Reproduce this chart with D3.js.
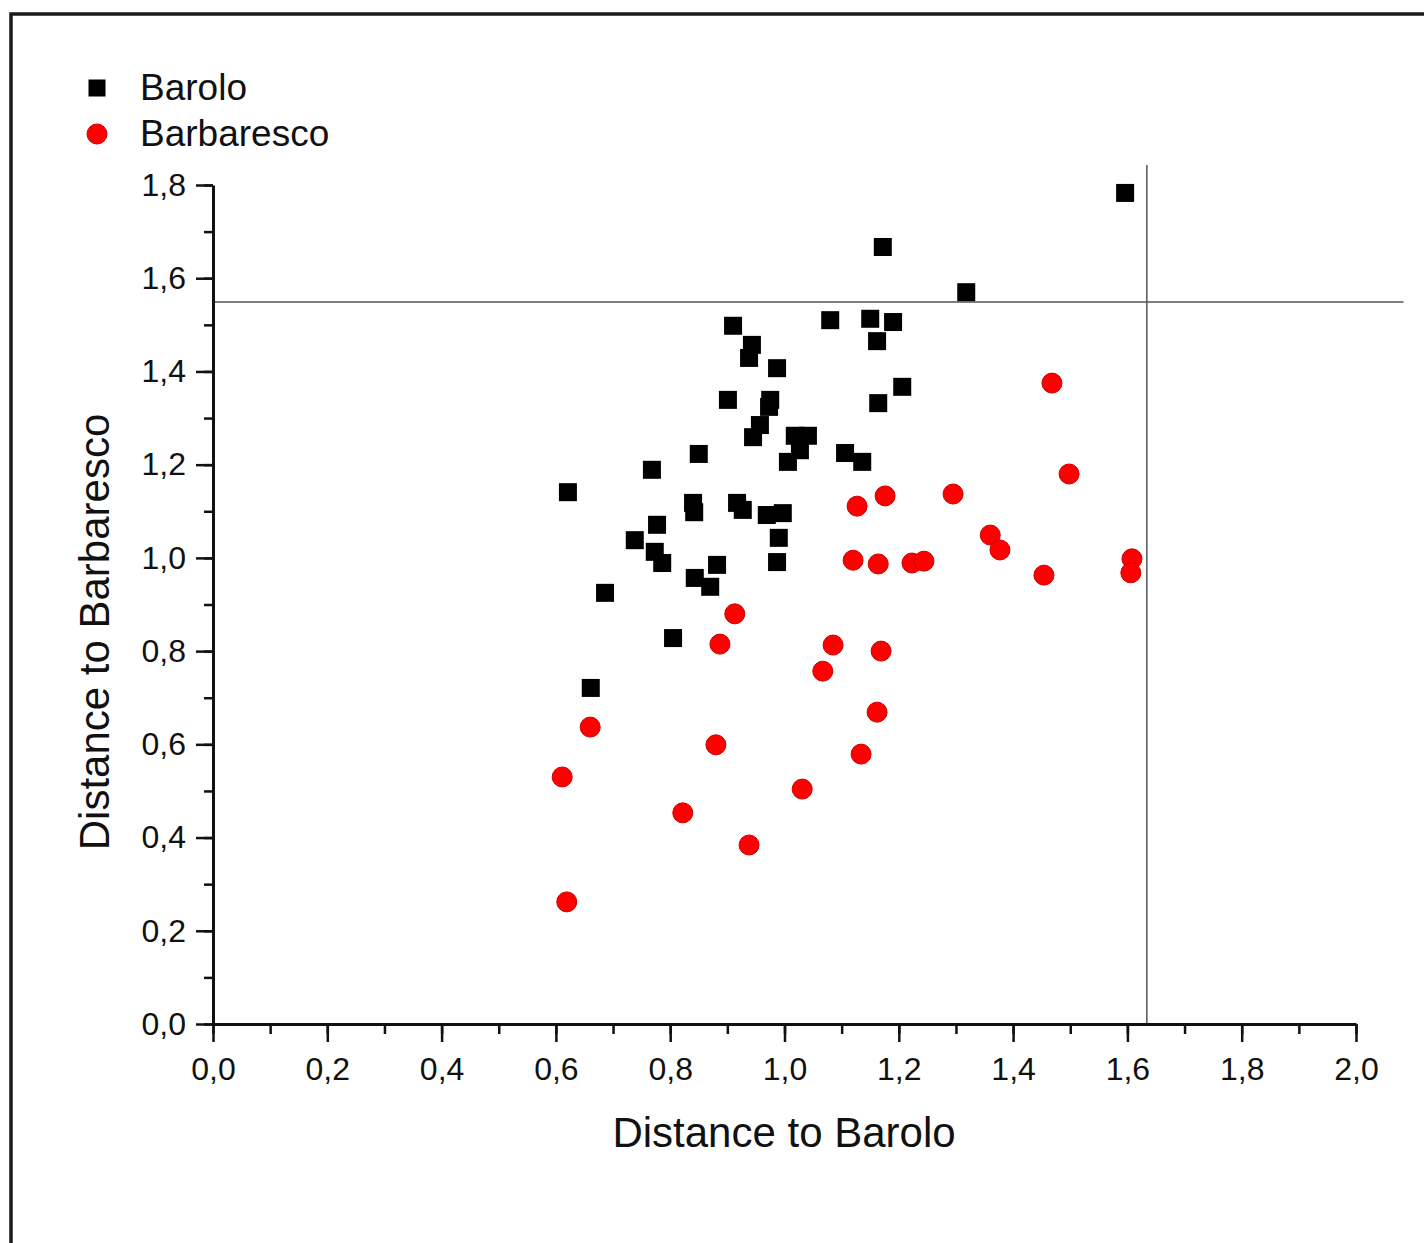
<!DOCTYPE html>
<meta charset='utf-8'>
<title>Distance to Barolo / Barbaresco</title>
<style>
body {
  margin: 0;
  background-color: #fff;
}
text {
  font-family: Arial, "Liberation Sans", sans-serif;
  fill: #111;
}
</style>
<svg width="1424" height="1243"></svg>
<script src="https://d3js.org/d3.v7.min.js"></script>
<script>

// Barolo samples: [distance to Barolo, distance to Barbaresco]
var baroloX = [1.596, 1.172, 1.318, 1.080, 1.150, 1.190, 0.910, 1.162, 0.943, 0.938,
               0.987, 1.206, 0.901, 0.975, 0.973, 1.164, 0.957, 0.945, 1.018, 1.041,
               1.027, 1.006, 0.850, 1.106, 1.136, 0.768, 0.621, 0.840, 0.842, 0.917,
               0.927, 0.969, 0.997, 0.777, 0.738, 0.773, 0.786, 0.990, 0.987, 0.882,
               0.843, 0.870, 0.686, 0.805, 0.661];
var baroloY = [1.783, 1.667, 1.570, 1.510, 1.513, 1.506, 1.498, 1.465, 1.457, 1.429,
               1.407, 1.367, 1.339, 1.339, 1.324, 1.332, 1.285, 1.259, 1.262, 1.262,
               1.231, 1.206, 1.223, 1.225, 1.206, 1.189, 1.141, 1.118, 1.098, 1.118,
               1.103, 1.092, 1.096, 1.071, 1.038, 1.013, 0.989, 1.043, 0.991, 0.985,
               0.957, 0.938, 0.925, 0.828, 0.721];

// Barbaresco samples
var barbX = [0.913, 0.887, 1.085, 1.169, 1.067, 1.162, 0.660, 0.880, 1.134, 0.611,
             1.031, 0.822, 0.938, 0.619, 1.127, 1.176, 1.295, 1.468, 1.498, 1.360,
             1.377, 1.120, 1.164, 1.223, 1.244, 1.454, 1.608, 1.606];
var barbY = [0.880, 0.815, 0.813, 0.800, 0.757, 0.669, 0.637, 0.599, 0.579, 0.530,
             0.504, 0.453, 0.384, 0.262, 1.111, 1.133, 1.137, 1.375, 1.180, 1.049,
             1.017, 0.995, 0.987, 0.989, 0.993, 0.963, 0.998, 0.968];

// threshold lines
var thresholdX = 1.634;
var thresholdY = 1.549;

var xTicks = [0, 0.2, 0.4, 0.6, 0.8, 1.0, 1.2, 1.4, 1.6, 1.8, 2.0];
var yTicks = [0, 0.2, 0.4, 0.6, 0.8, 1.0, 1.2, 1.4, 1.6, 1.8];
var seriesNames = ["Barolo", "Barbaresco"];

var svg = d3.select("svg");

var locale = d3.formatLocale({ decimal: ",", thousands: ".", grouping: [3], currency: ["", "€"] });
var fmt = locale.format(".1f");

var x = d3.scaleLinear().domain([0, 2]).range([213, 1356]);
var y = d3.scaleLinear().domain([0, 1.8]).range([1024, 185]);

// outer frame (cut off at right and bottom)
svg.append("rect")
    .attr("x", 11)
    .attr("y", 14)
    .attr("width", 1440)
    .attr("height", 1260)
    .attr("fill", "none")
    .attr("stroke", "#1a1a1a")
    .attr("stroke-width", 3.5);

// reference lines
svg.append("line")
    .attr("x1", x(0)).attr("x2", x(2.083))
    .attr("y1", y(thresholdY)).attr("y2", y(thresholdY))
    .attr("stroke", "#555")
    .attr("stroke-width", 1.5);

svg.append("line")
    .attr("x1", x(thresholdX)).attr("x2", x(thresholdX))
    .attr("y1", y(0)).attr("y2", y(1.843))
    .attr("stroke", "#555")
    .attr("stroke-width", 1.5);

// minor ticks
var minorX = d3.range(0, 21).map(function(i) { return i / 10; });
var minorY = d3.range(0, 19).map(function(i) { return i / 10; });

svg.append("g")
    .attr("transform", "translate(0," + y(0) + ")")
    .call(d3.axisBottom(x).tickValues(minorX).tickSize(10).tickFormat(""))
    .call(function(g) { g.select(".domain").remove(); })
    .selectAll("line").attr("stroke", "#111").attr("stroke-width", 2.5);

svg.append("g")
    .attr("transform", "translate(" + x(0) + ",0)")
    .call(d3.axisLeft(y).tickValues(minorY).tickSize(9).tickFormat(""))
    .call(function(g) { g.select(".domain").remove(); })
    .selectAll("line").attr("stroke", "#111").attr("stroke-width", 2.5);

// major axes
var xAxis = svg.append("g")
    .attr("transform", "translate(0," + y(0) + ")")
    .call(d3.axisBottom(x).tickValues(xTicks).tickSize(18).tickSizeOuter(0).tickPadding(15).tickFormat(fmt));

var yAxis = svg.append("g")
    .attr("transform", "translate(" + x(0) + ",0)")
    .call(d3.axisLeft(y).tickValues(yTicks).tickSize(17).tickSizeOuter(0).tickPadding(10).tickFormat(fmt));

[xAxis, yAxis].forEach(function(g) {
  g.select(".domain").attr("stroke", "#111").attr("stroke-width", 3);
  g.selectAll(".tick line").attr("stroke", "#111").attr("stroke-width", 2.5);
  g.selectAll(".tick text")
      .attr("font-size", 32)
      .attr("font-family", "Arial, 'Liberation Sans', sans-serif")
      .attr("fill", "#111");
});

// axis titles
svg.append("text")
    .attr("x", 784)
    .attr("y", 1147)
    .attr("text-anchor", "middle")
    .attr("font-size", 42)
    .text("Distance to Barolo");

svg.append("text")
    .attr("transform", "translate(109,632) rotate(-90)")
    .attr("text-anchor", "middle")
    .attr("font-size", 42)
    .text("Distance to Barbaresco");

// data points
var barolo = baroloX.map(function(v, i) { return [v, baroloY[i]]; });
var barbaresco = barbX.map(function(v, i) { return [v, barbY[i]]; });

var sq = 18;
svg.append("g").selectAll("rect")
    .data(barolo)
  .enter().append("rect")
    .attr("x", function(d) { return x(d[0]) - sq / 2; })
    .attr("y", function(d) { return y(d[1]) - sq / 2; })
    .attr("width", sq)
    .attr("height", sq)
    .attr("fill", "#000");

svg.append("g").selectAll("circle")
    .data(barbaresco)
  .enter().append("circle")
    .attr("cx", function(d) { return x(d[0]); })
    .attr("cy", function(d) { return y(d[1]); })
    .attr("r", 10)
    .attr("fill", "#f00")
    .attr("stroke", "#c00")
    .attr("stroke-width", 1);

// legend
var legend = svg.append("g");
legend.append("rect")
    .attr("x", 97 - 8.5).attr("y", 88 - 8.5)
    .attr("width", 17).attr("height", 17)
    .attr("fill", "#000");
legend.append("circle")
    .attr("cx", 97).attr("cy", 134).attr("r", 10)
    .attr("fill", "#f00").attr("stroke", "#c00");
legend.selectAll("text")
    .data(seriesNames)
  .enter().append("text")
    .attr("x", 140)
    .attr("y", function(d, i) { return 100 + i * 46; })
    .attr("font-size", 37)
    .text(function(d) { return d; });
</script>
